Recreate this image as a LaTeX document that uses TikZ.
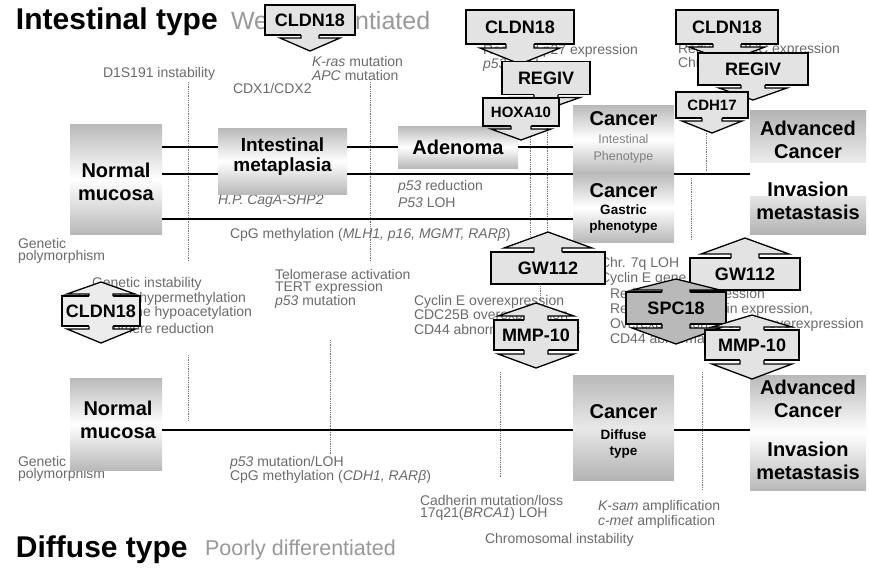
\documentclass[tikz,border=0pt]{standalone}
\usepackage{fontspec}
\setmainfont{Liberation Sans}
\usetikzlibrary{calc}
\newcommand\fs[2]{\fontsize{#1}{#2}\selectfont}
% callout arrows: node, stem half width, head half width, stem length, head length, fill
\newcommand\calldown[6]{%
 \fill[#6] ($(#1.south)+(-#2,-1)$) -- ($(#1.south)+(-#2,#4)$) -- ($(#1.south)+(-#3,#4)$) -- ($(#1.south)+(0,#4+#5)$) -- ($(#1.south)+(#3,#4)$) -- ($(#1.south)+(#2,#4)$) -- ($(#1.south)+(#2,-1)$) -- cycle;
 \draw[callline] ($(#1.south)+(-#2,0)$) -- ($(#1.south)+(-#2,#4)$) -- ($(#1.south)+(-#3,#4)$) -- ($(#1.south)+(0,#4+#5)$) -- ($(#1.south)+(#3,#4)$) -- ($(#1.south)+(#2,#4)$) -- ($(#1.south)+(#2,0)$);}
\newcommand\callup[6]{%
 \fill[#6] ($(#1.north)+(-#2,1)$) -- ($(#1.north)+(-#2,-#4)$) -- ($(#1.north)+(-#3,-#4)$) -- ($(#1.north)+(0,-#4-#5)$) -- ($(#1.north)+(#3,-#4)$) -- ($(#1.north)+(#2,-#4)$) -- ($(#1.north)+(#2,1)$) -- cycle;
 \draw[callline] ($(#1.north)+(-#2,0)$) -- ($(#1.north)+(-#2,-#4)$) -- ($(#1.north)+(-#3,-#4)$) -- ($(#1.north)+(0,-#4-#5)$) -- ($(#1.north)+(#3,-#4)$) -- ($(#1.north)+(#2,-#4)$) -- ($(#1.north)+(#2,0)$);}
\begin{document}
\begin{tikzpicture}[x=1pt,y=-1pt,
  every node/.style={inner sep=0pt, outer sep=0pt},
  lbl/.style={anchor=west, text=black!58, font=\fs{14}{15}},
  lble/.style={lbl, anchor=east},
  big/.style={font=\bfseries\fs{20}{23}, align=center},
  midtxt/.style={font=\bfseries\fs{13.5}{16}, align=center},
  stagebox/.style={draw=none, top color=gray!55, bottom color=gray!55, middle color=white},
  cbox/.style={draw, line width=1.3pt, fill=#1, font=\bfseries\fs{18}{18}},
  cbox/.default=gray!22,
  callline/.style={line width=1.3pt, line join=miter},
  thk/.style={line width=2.8pt},
  dots/.style={densely dotted, line width=0.8pt, black!55}
]
\useasboundingbox (0,0) rectangle (869,579);
\fill[white] (0,0) rectangle (869,579);

% dotted time lines
\draw[dots] (188,82) -- (188,262);
\draw[dots] (188,355) -- (188,420);
\draw[dots] (370,82) -- (370,262);
\draw[dots] (330,340) -- (330,455);
\draw[dots] (530,128) -- (530,240);
\draw[dots] (547,128) -- (547,240);
\draw[dots] (706,120) -- (706,172);
\draw[dots] (691,178) -- (691,240);
\draw[dots] (540,286) -- (540,302);
\draw[dots] (500,372) -- (500,478);
\draw[dots] (702,372) -- (702,490);

% titles
\node[anchor=west, font=\bfseries\fs{30}{32}] (t1) at (16,22) {Intestinal type};
\node[anchor=west, font=\fs{25}{27}, text=black!40] (t2) at (231,21) {Well differentiated};
\node[anchor=west, font=\bfseries\fs{30}{32}] (t3) at (16,550) {Diffuse type};
\node[anchor=west, font=\fs{21.5}{23}, text=black!40] (t4) at (205,550) {Poorly differentiated};

% labels, intestinal
\node[lbl] (l1) at (103,74) {D1S191 instability};
\node[lbl] (l2) at (233,88) {CDX1/CDX2};
\node[lbl] (l3) at (312,61) {\textit{K-ras} mutation};
\node[lbl] (l4) at (312,75) {\textit{APC} mutation};
\node[lbl] (l5) at (483,51) {Reduced p27 expression};
\node[lbl] (l6) at (483,65) {\textit{p53} LOH};
\node[lbl] (l7) at (678,50) {Reduced DCC expression};
\node[lbl] (l8) at (678,64) {Chr. 18q LOH};
\node[lbl] (l9) at (218,201) {\textit{H.P. CagA-SHP2}};
\node[lbl] (l10) at (398,187) {\textit{p53} reduction};
\node[lbl] (l11) at (398,203) {\textit{P53} LOH};
\node[lbl] (l12) at (230,235) {CpG methylation (\textit{MLH1, p16, MGMT, RARβ})};
\node[lbl] (l13) at (18,243) {Genetic};
\node[lbl] (l14) at (18,257) {polymorphism};
\node[lbl] (l15) at (92,284) {Genetic instability};
\node[lble] (l16) at (246,299) {Promoter hypermethylation};
\node[lble] (l17) at (252,313) {Histone hypoacetylation};
\node[lble] (l18) at (214,328) {Telomere reduction};
\node[lbl] (l19) at (275,274) {Telomerase activation};
\node[lbl] (l20) at (275,288) {TERT expression};
\node[lbl] (l21) at (275,302) {\textit{p53} mutation};
\node[lbl] (l22) at (414,302) {Cyclin E overexpression};
\node[lbl] (l23) at (414,316) {CDC25B overexpression};
\node[lbl] (l24) at (414,331) {CD44 abnormal transcripts};
\node[lbl] (l25) at (600,264) {Chr. 7q LOH};
\node[lbl] (l26) at (600,279) {Cyclin E gene amplification};
\node[lbl] (l27) at (610,295) {Reduced p27 expression};
\node[lbl] (l28) at (610,310) {Reduced E-cadherin expression,};
\node[lbl] (l29) at (610,325) {Overexpression, c-erbB2 overexpression};
\node[lbl] (l30) at (610,340) {CD44 abnormal transcripts};

% labels, diffuse
\node[lbl] (d1) at (18,461) {Genetic};
\node[lbl] (d2) at (18,475) {polymorphism};
\node[lbl] (d3) at (230,463) {\textit{p53} mutation/LOH};
\node[lbl] (d4) at (230,477) {CpG methylation (\textit{CDH1, RARβ})};
\node[lbl] (d5) at (420,500) {Cadherin mutation/loss};
\node[lbl] (d6) at (420,514) {17q21(\textit{BRCA1}) LOH};
\node[lbl] (d7) at (598,507) {\textit{K-sam} amplification};
\node[lbl] (d8) at (598,522) {\textit{c-met} amplification};
\node[lbl] (d9) at (485,540) {Chromosomal instability};

% stage boxes (intestinal)
\node[stagebox, minimum width=92pt, minimum height=110pt] (nm1) at (116,179) {};
\node[big] (nm1t) at (116,182) {Normal\\mucosa};
\node[stagebox, minimum width=129pt, minimum height=66pt] (im) at (282.5,161) {};
\node[big, font=\bfseries\fs{19}{20}] (imt) at (282.5,157) {Intestinal\\metaplasia};
\node[stagebox, minimum width=120pt, minimum height=42pt] (ad) at (458,147) {};
\node[big] (adt) at (458,147) {Adenoma};
\node[stagebox, minimum width=101pt, minimum height=68pt] (ci) at (623.5,139) {};
\node[big] (cit) at (623.5,119) {Cancer};
\node[font=\fs{12.5}{14}, text=black!50] (cit2) at (623.5,139) {Intestinal};
\node[font=\fs{12.5}{14}, text=black!50] (cit3) at (623.5,157) {Phenotype};
\node[stagebox, minimum width=101pt, minimum height=69pt] (cg) at (623.5,207.5) {};
\node[big] (cgt) at (623.5,191) {Cancer};
\node[midtxt] (cgt2) at (623.5,219) {Gastric\\phenotype};
\node[draw=none, top color=gray!60, bottom color=gray!15, minimum width=116pt, minimum height=52pt] (ac1) at (808,136) {};
\node[big] (ac1t) at (808,140) {Advanced\\Cancer};
\node[draw=none, top color=gray!20, bottom color=gray!60, minimum width=116pt, minimum height=38pt] (iv1) at (808,215) {};
\node[big] (iv1t) at (808,201) {Invasion\\metastasis};

% stage boxes (diffuse)
\node[stagebox, minimum width=92pt, minimum height=92pt] (nm2) at (116,424) {};
\node[big] (nm2t) at (118,420) {Normal\\mucosa};
\node[draw=none, top color=gray!55, bottom color=gray!60, middle color=gray!18, minimum width=101pt, minimum height=105pt] (cd) at (623.5,427.5) {};
\node[big] (cdt) at (623.5,412) {Cancer};
\node[midtxt] (cdt2) at (623.5,444) {Diffuse\\type};
\node[stagebox, minimum width=116pt, minimum height=115pt] (ac2) at (808,432.5) {};
\node[big] (ac2t) at (808,399) {Advanced\\Cancer};
\node[big] (iv2t) at (808,461) {Invasion\\metastasis};

% thick progression lines
\coordinate (L1) at (0,147);
\coordinate (L2) at (0,174);
\coordinate (L3) at (0,219);
\coordinate (L4) at (0,430);
\draw[thk] (nm1.east |- L1) -- (im.west |- L1);
\draw[thk] (im.east |- L1) -- (ad.west |- L1);
\draw[thk] (ad.east |- L1) -- (ci.west |- L1);
\draw[thk] (nm1.east |- L2) -- (im.west |- L2);
\draw[thk] (im.east |- L2) -- (ci.west |- L2);
\draw[thk] (ci.east |- L2) -- (ac1.west |- L2);
\draw[thk] (nm1.east |- L3) -- (cg.west |- L3);
\draw[thk] (nm2.east |- L4) -- (cd.west |- L4);
\draw[thk] (cd.east |- L4) -- (ac2.west |- L4);

% callout boxes
\node[cbox, minimum width=90pt, minimum height=30pt] (cA) at (310,20) {CLDN18};
\calldown{cA}{9}{30}{3}{13}{gray!22}

\node[cbox, minimum width=108pt, minimum height=34pt] (cB) at (520,27) {CLDN18};
\calldown{cB}{14}{40}{4}{16}{gray!22}
\node[cbox, minimum width=88pt, minimum height=33pt] (rB) at (546,78) {REGIV};
\calldown{rB}{12}{34}{3}{12}{gray!22}
\node[cbox, minimum width=76pt, minimum height=28pt, font=\bfseries\fs{15}{15}] (hB) at (521,112) {HOXA10};
\calldown{hB}{10}{30}{3}{11}{gray!22}

\node[cbox, minimum width=102pt, minimum height=34pt] (cC) at (727,27) {CLDN18};
\calldown{cC}{14}{38}{3}{14}{gray!22}
\node[cbox, minimum width=110pt, minimum height=32pt] (rC) at (753,69) {REGIV};
\calldown{rC}{12}{34}{3}{12}{gray!22}
\node[cbox, minimum width=72pt, minimum height=26pt, font=\bfseries\fs{15}{15}] (dC) at (712,105) {CDH17};
\calldown{dC}{10}{30}{3}{12}{gray!22}

\node[cbox=gray!15, minimum width=78pt, minimum height=30pt] (cX) at (101,311) {CLDN18};
\callup{cX}{12}{34}{2}{12}{gray!15}
\calldown{cX}{12}{34}{3}{14}{gray!15}

\node[cbox, minimum width=114pt, minimum height=32pt] (gB) at (548,268) {GW112};
\callup{gB}{14}{44}{4}{16}{gray!22}
\node[cbox, minimum width=84pt, minimum height=30pt] (mB) at (536,335) {MMP-10};
\callup{mB}{12}{38}{4}{13}{gray!22}
\calldown{mB}{12}{38}{4}{14}{gray!22}

\node[cbox, minimum width=110pt, minimum height=32pt] (gC) at (745,274) {GW112};
\callup{gC}{14}{44}{4}{16}{gray!22}
\node[cbox=gray!55, minimum width=100pt, minimum height=32pt] (sC) at (676,308) {SPC18};
\callup{sC}{14}{44}{2}{11}{gray!55}
\calldown{sC}{14}{44}{4}{16}{gray!55}
\node[cbox, minimum width=94pt, minimum height=30pt] (mC) at (752,345) {MMP-10};
\callup{mC}{12}{40}{3}{12}{gray!22}
\calldown{mC}{12}{40}{4}{15}{gray!22}
\end{tikzpicture}
\end{document}
